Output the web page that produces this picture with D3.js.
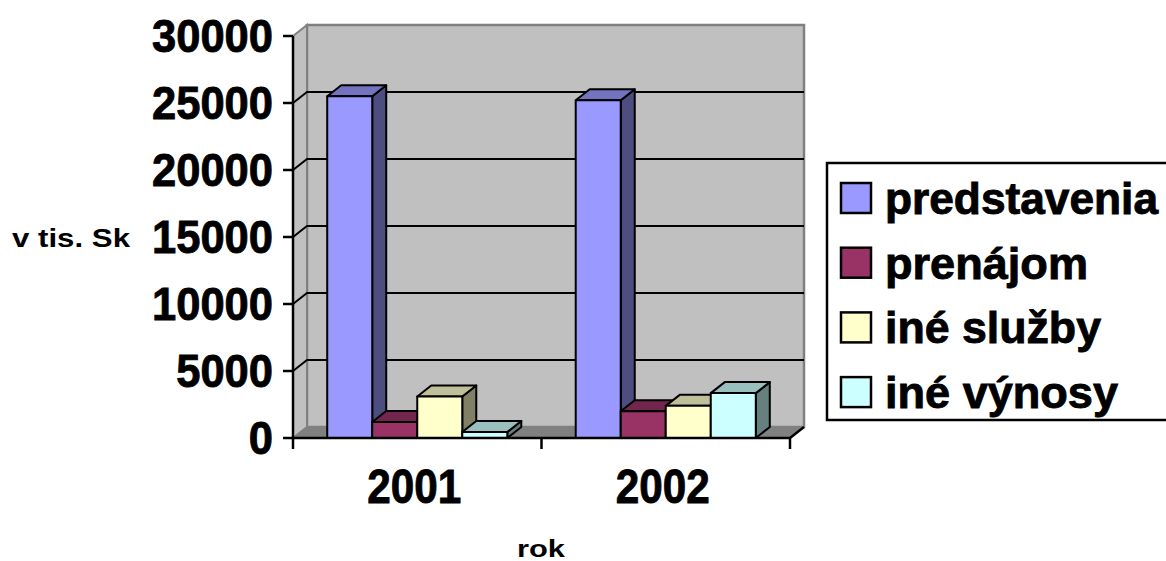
<!DOCTYPE html>
<html><head><meta charset="utf-8">
<script src="https://cdn.jsdelivr.net/npm/d3@7"></script>
<style>body{margin:0;background:#fff}svg{display:block}text{font-family:"Liberation Sans",Arial,sans-serif;font-weight:bold;fill:#000}text.big{stroke:#000;stroke-width:0.9px}</style>
</head><body>
<svg id="c" width="1166" height="561"></svg>
<script>
const years = ["2001", "2002"];
const seriesNames = ["predstavenia", "prenájom", "iné služby", "iné výnosy"];
const predstavenia = [25500, 25200];
const prenajom = [1200, 2000];
const ineSluzby = [3100, 2400];
const ineVynosy = [450, 3350];
const yTicks = [0, 5000, 10000, 15000, 20000, 25000, 30000];
const seriesValues = [predstavenia, prenajom, ineSluzby, ineVynosy];
const fronts = ["#9999FF", "#993366", "#FFFFCC", "#CCFFFF"];
const tops = ["#7373BF", "#73264D", "#BFBF99", "#99BFBF"];
const sides = ["#4D4D80", "#4D1A33", "#808066", "#668080"];

const svg = d3.select("#c");
const DX = 14, DY = -11;
const y = d3.scaleLinear().domain([0, 30000]).range([438, 36]);
const x = d3.scaleBand().domain(years).range([293, 790]).paddingInner(0).paddingOuter(0);
const xs = d3.scaleBand().domain(seriesNames).range([0, x.bandwidth()]).paddingInner(0).paddingOuter(0.76);
const x0 = 293, x1 = 790, y0 = y(0), yT = y(30000);
const pts = a => a.map(p => p.join(",")).join(" ");

// back wall
svg.append("polygon").attr("points", pts([[x0+DX, yT+DY],[x1+DX, yT+DY],[x1+DX, y0+DY],[x0+DX, y0+DY]]))
  .attr("fill", "#C0C0C0").attr("stroke", "#808080").attr("stroke-width", 2.5);
// left wall
svg.append("polygon").attr("points", pts([[x0, yT],[x0+DX, yT+DY],[x0+DX, y0+DY],[x0, y0]]))
  .attr("fill", "#C0C0C0").attr("stroke", "#808080").attr("stroke-width", 2);
// floor
svg.append("polygon").attr("points", pts([[x0, y0],[x0+DX, y0+DY],[x1+DX, y0+DY],[x1, y0]]))
  .attr("fill", "#808080").attr("stroke", "#808080").attr("stroke-width", 1);

// gridlines
const gl = yTicks.filter(t => t > 0 && t < 30000);
svg.append("g").selectAll("path").data(gl).join("path")
  .attr("d", t => `M${x0},${y(t)}L${x0+DX},${y(t)+DY}L${x1+DX},${y(t)+DY}`)
  .attr("fill", "none").attr("stroke", "#000").attr("stroke-width", 2);

// bars
const bars = svg.append("g");
years.forEach((yr, j) => {
  seriesNames.forEach((s, i) => {
    const v = seriesValues[i][j];
    const bx = x(yr) + xs(s), bw = xs.bandwidth();
    const bt = y(v), bb = y(0);
    const g = bars.append("g").attr("stroke", "#000").attr("stroke-width", 2).attr("stroke-linejoin", "round");
    g.append("polygon").attr("points", pts([[bx+bw, bt],[bx+bw+DX, bt+DY],[bx+bw+DX, bb+DY],[bx+bw, bb]])).attr("fill", sides[i]);
    g.append("polygon").attr("points", pts([[bx, bt],[bx+DX, bt+DY],[bx+bw+DX, bt+DY],[bx+bw, bt]])).attr("fill", tops[i]);
    g.append("rect").attr("x", bx).attr("y", bt).attr("width", bw).attr("height", bb - bt).attr("fill", fronts[i]);
  });
});

// axes
svg.append("path").attr("d", `M${x0},${yT}L${x0},${y0}`).attr("stroke", "#000").attr("stroke-width", 2.5);
svg.append("path").attr("d", `M${x0},${y0}L${x1},${y0}L${x1+DX},${y0+DY}`).attr("fill", "none").attr("stroke", "#000").attr("stroke-width", 2.5);
svg.append("g").selectAll("path").data(yTicks).join("path")
  .attr("d", t => `M${x0-10},${y(t)}L${x0},${y(t)}`).attr("stroke", "#000").attr("stroke-width", 2.5);
svg.append("g").selectAll("path").data([...years.map(d => x(d)), x1]).join("path")
  .attr("d", d => `M${d},${y0}L${d},${y0+11}`).attr("stroke", "#000").attr("stroke-width", 2.5);

// tick labels
svg.append("g").selectAll("text").data(yTicks).join("text").attr("class", "big")
  .attr("x", 273).attr("y", t => y(t) + 16).attr("text-anchor", "end")
  .attr("font-size", 47).attr("textLength", t => String(t).length * 24.2).attr("lengthAdjust", "spacingAndGlyphs")
  .text(d => d);
svg.append("g").selectAll("text").data(years).join("text").attr("class", "big")
  .attr("x", d => x(d) + x.bandwidth()/2 - 3).attr("y", 503).attr("text-anchor", "middle")
  .attr("font-size", 48).attr("textLength", 94).attr("lengthAdjust", "spacingAndGlyphs")
  .text(d => d);

// axis titles
svg.append("text").attr("x", 12).attr("y", 247).attr("font-size", 26).attr("textLength", 118).attr("lengthAdjust", "spacingAndGlyphs").text("v tis. Sk");
svg.append("text").attr("x", 517).attr("y", 557).attr("font-size", 23).attr("textLength", 48).attr("lengthAdjust", "spacingAndGlyphs").text("rok");

// legend
const lg = svg.append("g");
lg.append("rect").attr("x", 827).attr("y", 163).attr("width", 360).attr("height", 257).attr("fill", "#fff").attr("stroke", "#000").attr("stroke-width", 2.5);
const legendW = [273, 203, 216, 233];
const rows = lg.selectAll("g.r").data(seriesNames).join("g").attr("class", "r")
  .attr("transform", (d, i) => `translate(0,${i * 64.7})`);
rows.append("rect").attr("x", 841).attr("y", 183).attr("width", 30).attr("height", 30)
  .attr("fill", (d, i) => fronts[i]).attr("stroke", "#000").attr("stroke-width", 2.5);
rows.append("text").attr("class", "big").attr("x", 885).attr("y", 214).attr("font-size", 45)
  .attr("textLength", (d, i) => legendW[i]).attr("lengthAdjust", "spacingAndGlyphs").text(d => d);
</script>
</body></html>
